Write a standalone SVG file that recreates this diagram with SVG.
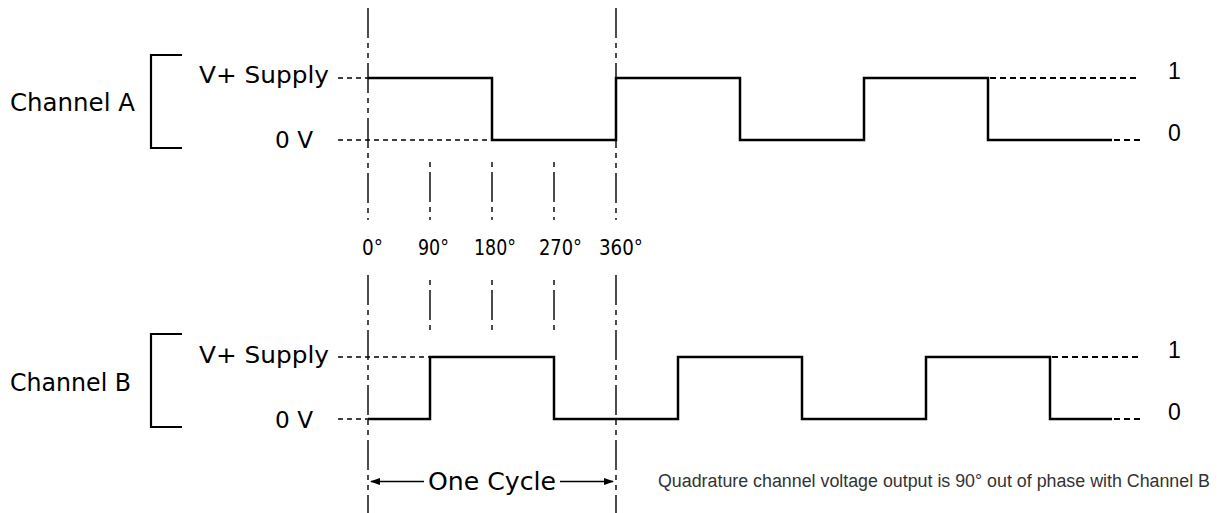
<svg xmlns="http://www.w3.org/2000/svg" width="1223" height="513" viewBox="0 0 1223 513">
<style>
.lbl{font-family:"DejaVu Sans","Liberation Sans",sans-serif;fill:#000}
.num{font-family:"Liberation Sans",Arial,sans-serif;fill:#000}
.wave{fill:none;stroke:#000;stroke-width:2.5;stroke-linejoin:miter}
.ref{fill:none;stroke:#000;stroke-width:1.3;stroke-dasharray:5 4}
.cont{fill:none;stroke:#000;stroke-width:2;stroke-dasharray:6 4}
.axis{fill:none;stroke:#000;stroke-width:1.4;stroke-dasharray:30 5 5 5 5 5}
.brk{fill:none;stroke:#000;stroke-width:2.2}
.arr{fill:none;stroke:#000;stroke-width:1.3}
</style>
<defs>
<marker id="ah" markerUnits="userSpaceOnUse" markerWidth="10" markerHeight="8" refX="9" refY="3.5" orient="auto-start-reverse">
<path d="M0,0 L10,3.5 L0,7 z" fill="#000"/>
</marker>
</defs>
<rect width="1223" height="513" fill="#fff"/>

<g id="connectors">
<path class="axis" d="M368,8 V220 M368,275 V513"/>
<path class="axis" d="M616,8 V220 M616,275 V513"/>
<path class="axis" d="M430,157 V220 M430,275 V334" style="stroke-dashoffset:40"/>
<path class="axis" d="M492,157 V220 M492,275 V334" style="stroke-dashoffset:40"/>
<path class="axis" d="M554,157 V220 M554,275 V334" style="stroke-dashoffset:40"/>
<path class="ref" d="M338,78 H368"/>
<path class="ref" d="M338,140 H492"/>
<path class="ref" d="M338,357 H430"/>
<path class="ref" d="M338,419 H368"/>
<path class="cont" d="M990,78 H1140"/>
<path class="cont" d="M1112,140 H1140" style="stroke-dashoffset:-2"/>
<path class="cont" d="M1052,357 H1140"/>
<path class="cont" d="M1112,419 H1140" style="stroke-dashoffset:-2"/>
<path class="arr" d="M424,481.5 H371" marker-end="url(#ah)"/>
<path class="arr" d="M560,481.5 H613" marker-end="url(#ah)"/>
</g>

<g id="channel-a">
<text class="lbl" x="10" y="111" font-size="24" textLength="125" lengthAdjust="spacingAndGlyphs">Channel A</text>
<path class="brk" d="M182,55 H151 V148 H182"/>
<text class="lbl" x="199" y="83" font-size="23" textLength="130" lengthAdjust="spacingAndGlyphs">V+ Supply</text>
<text class="lbl" x="275" y="148" font-size="23" textLength="38" lengthAdjust="spacingAndGlyphs">0 V</text>
<path class="wave" d="M368,78 H492 V140 H616 V78 H740 V140 H864 V78 H988 V140 H1112"/>
<text class="num" x="1168" y="79" font-size="23">1</text>
<text class="num" x="1168" y="141" font-size="23">0</text>
</g>

<g id="phase-labels">
<text class="lbl" x="362" y="255" font-size="21" textLength="21" lengthAdjust="spacingAndGlyphs">0°</text>
<text class="lbl" x="418" y="255" font-size="21" textLength="31" lengthAdjust="spacingAndGlyphs">90°</text>
<text class="lbl" x="474" y="255" font-size="21" textLength="42" lengthAdjust="spacingAndGlyphs">180°</text>
<text class="lbl" x="539" y="255" font-size="21" textLength="43" lengthAdjust="spacingAndGlyphs">270°</text>
<text class="lbl" x="599" y="255" font-size="21" textLength="44" lengthAdjust="spacingAndGlyphs">360°</text>
</g>

<g id="channel-b">
<text class="lbl" x="10" y="391" font-size="24" textLength="121" lengthAdjust="spacingAndGlyphs">Channel B</text>
<path class="brk" d="M182,334 H151 V427 H182"/>
<text class="lbl" x="199" y="363" font-size="23" textLength="130" lengthAdjust="spacingAndGlyphs">V+ Supply</text>
<text class="lbl" x="275" y="428" font-size="23" textLength="38" lengthAdjust="spacingAndGlyphs">0 V</text>
<path class="wave" d="M368,419 H430 V357 H554 V419 H678 V357 H802 V419 H926 V357 H1050 V419 H1112"/>
<text class="num" x="1168" y="358" font-size="23">1</text>
<text class="num" x="1168" y="420" font-size="23">0</text>
</g>

<g id="one-cycle">
<text class="lbl" x="428" y="490" font-size="25" textLength="128" lengthAdjust="spacingAndGlyphs">One Cycle</text>
</g>

<g id="caption">
<text class="num" x="658" y="487" font-size="18" style="fill:#333" textLength="552" lengthAdjust="spacingAndGlyphs">Quadrature channel voltage output is 90° out of phase with Channel B</text>
</g>
</svg>
